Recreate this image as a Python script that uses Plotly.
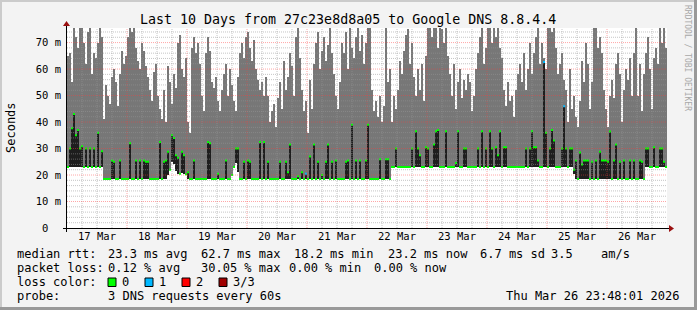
import plotly.graph_objects as go

# ---------------- data ----------------
day_labels = ["17 Mar", "18 Mar", "19 Mar", "20 Mar", "21 Mar",
              "22 Mar", "23 Mar", "24 Mar", "25 Mar", "26 Mar"]
y_tick_values = [0, 10, 20, 30, 40, 50, 60, 70]
y_tick_labels = ["0\u00a0\u00a0", "10 m", "20 m", "30 m", "40 m", "50 m", "60 m", "70 m"]

bin_hours = 0.8   # one value per 48 minutes, 17 Mar 00:00 .. 27 Mar 00:00

# lower edge of the smoke (ms)
smoke_low = [
    23, 23, 23, 23, 23, 23, 23, 23, 23, 23, 23, 23, 23, 23, 23, 23, 23, 23, 18.5, 18.5,
    18.5, 18.5, 18.5, 18.5, 18.5, 18.5, 18.5, 18.5, 18.5, 18.5, 18.5, 18.5, 18.5, 18.5, 18.5, 18.5, 18.5, 18.5, 18.5, 18.5,
    18.5, 18.5, 18.5, 18.5, 18.5, 18.5, 18.5, 18.5, 18.5, 18.5,
    20, 22, 25, 24, 21.5, 20.5, 20.5, 20.8, 20.5, 20.3, 18.5, 18.5, 18.5, 18.5, 18.5, 18.5, 18.5, 18.5, 18.5, 18.5,
    18.5, 18.5, 18.5, 18.5, 18.5, 18.5, 18.5, 18.5, 18.5, 18.5, 18.5, 18.5, 20, 23, 24.5, 21, 18.5, 18.5, 18.5, 18.5,
    18.5, 18.5, 18.5, 18.5, 18.5, 18.5, 18.5, 18.5, 18.5, 18.5,
    18.5, 18.5, 18.5, 18.5, 18.5, 18.5, 18.5, 18.5, 18.5, 18.5, 18.5, 18.5, 18.5, 18.5, 18.5, 18.5, 18.5, 18.5, 18.5, 18.5,
    18.5, 18.5, 18.5, 18.5, 18.5, 18.5, 18.5, 18.5, 18.5, 18.5, 18.5, 18.5, 18.5, 18.5, 18.5, 18.5, 18.5, 18.5, 18.5, 18.5,
    18.5, 18.5, 18.5, 18.5, 18.5, 18.5, 18.5, 18.5, 18.5, 18.5,
    18.5, 18.5, 18.5, 18.5, 18.5, 18.5, 18.5, 18.5, 18.5, 18.5, 18.5, 18.5, 23, 23, 23, 23, 23, 23, 23, 23,
    23, 23, 23, 23, 23, 23, 23, 23, 23, 23, 23, 23, 23, 23, 23, 23, 23, 23, 23, 23,
    23, 23, 23, 23, 23, 23, 23, 23, 23, 23,
    23, 23, 23, 23, 23, 23, 23, 23, 23, 23, 23, 23, 23, 23, 23, 23, 23, 23, 23, 23,
    23, 23, 23, 23, 23, 23, 23, 23, 23, 23, 23, 23, 23, 23, 23, 23, 23, 23, 23, 23,
    23, 23, 23, 23, 23, 23, 23, 23, 23, 23,
    23, 23, 23, 20.5, 18.5, 18.5, 18.5, 18.5, 18.5, 18.5, 18.5, 18.5, 18.5, 18.5, 18.5, 18.5, 18.5, 18.5, 18.5, 18.5,
    18.5, 18.5, 18.5, 18.5, 18.5, 18.5, 18.5, 18.5, 18.5, 18.5, 18.5, 18.5, 18.5, 18.5, 18.5, 18.5, 18.5, 18.5, 18.5, 23,
    23, 23, 23, 23, 23, 23, 23, 23, 23, 23,
]

# upper edge of the smoke (ms, the chart clips at 75.5)
smoke_top = [
    65, 66, 55, 75.5, 72, 68, 75.5, 75.5, 70, 62, 74, 75.5, 58, 66, 64, 70, 75.5, 72, 41, 54,
    50, 47, 57, 60, 55, 46, 58, 67, 62, 65, 72, 75.5, 74, 75.5, 68, 63, 60, 70, 67, 61,
    57, 52, 48, 59, 62, 50, 45, 41, 52, 40,
    61, 55, 47, 58, 53, 70, 73, 60, 57, 64, 40, 36, 68, 72, 66, 70, 62, 50, 44, 66,
    72, 67, 55, 53, 57, 48, 44, 52, 58, 62, 50, 60, 54, 48, 44, 57, 66, 70, 64, 72,
    74, 68, 63, 71, 60, 56, 52, 55, 50, 57,
    50, 40, 44, 47, 38, 49, 55, 45, 63, 52, 57, 66, 61, 50, 72, 75.5, 64, 52, 44, 48,
    36, 56, 45, 62, 70, 74, 60, 67, 72, 63, 69, 75.5, 66, 58, 50, 45, 55, 70, 66, 74,
    60, 75.5, 68, 64, 72, 75.5, 67, 73, 62, 70,
    75.5, 75.5, 52, 44, 48, 42, 50, 40, 46, 75.5, 55, 60, 40, 50, 45, 52, 63, 58, 67, 73,
    75, 62, 70, 57, 50, 60, 52, 62, 48, 65, 75.5, 75.5, 72, 75.5, 75.5, 68, 75.5, 75, 70, 75.5,
    65, 58, 50, 62, 45, 55, 60, 49, 56, 52,
    58, 55, 44, 50, 60, 66, 72, 75.5, 62, 68, 75.5, 75.5, 70, 75.5, 72, 75.5, 68, 64, 52, 46,
    55, 48, 50, 42, 52, 58, 62, 55, 66, 52, 60, 70, 58, 66, 72, 75.5, 62, 70, 64, 60,
    75.5, 75.5, 74, 75.5, 68, 58, 62, 66, 56, 52,
    40, 60, 45, 50, 42, 38, 48, 63, 55, 70, 62, 45, 55, 75.5, 75.5, 68, 72, 66, 52, 45,
    38, 50, 56, 49, 62, 66, 58, 40, 52, 60, 56, 64, 50, 66, 75.5, 50, 62, 44, 58, 66,
    72, 60, 45, 64, 68, 62, 75.5, 70, 75.5, 68,
]

# median round trip time (ms)
median_rtt = [
    23, 30, 37.7, 43, 35, 37, 30, 31, 23, 30, 23, 30, 23, 30, 23, 36, 23, 29, 18.5, 18.5,
    18.5, 18.5, 25.5, 25, 18.5, 18.5, 25.5, 18.5, 18.5, 18.5, 18.5, 32, 18.5, 18.5, 25.5, 18.5, 25.5, 18.5, 25.5, 25,
    25, 18.5, 18.5, 18.5, 18.5, 18.5, 32.5, 18.5, 25, 25.5,
    28.8, 22, 35, 34, 27.5, 26.5, 20.5, 28.8, 27.5, 20.3, 21, 18.5, 18.5, 25.5, 18.5, 18.5, 18.5, 18.5, 18.5, 18.5,
    32.5, 32, 18.5, 18.5, 18.5, 20.5, 18.5, 18.5, 18.5, 25.5, 18.5, 18.5, 20, 23, 30, 30, 18.5, 18.5, 25, 18.5,
    25.5, 25, 18.5, 18.5, 18.5, 18.5, 32.5, 18.5, 32.5, 18.5,
    25, 18.5, 18.5, 18.5, 18.5, 18.5, 25, 18.5, 18.5, 25, 21, 31.5, 18.5, 18.5, 18.5, 19.5, 18.5, 21, 18.5, 20.5,
    18.5, 27, 18.5, 31.5, 18.5, 25, 18.5, 20, 18.5, 25, 31.5, 18.5, 25, 18.5, 25.5, 18.5, 18.5, 18.5, 18.5, 25,
    25.5, 18.5, 39, 18.5, 25.5, 18.5, 25.5, 18.5, 18.5, 25.5,
    39, 18.5, 18.5, 18.5, 18.5, 18.5, 26, 18.5, 18.5, 26, 26, 18.5, 23, 23, 30, 23, 23, 23, 23, 23,
    23, 23, 30, 23, 36.5, 30, 27.5, 23, 23, 30.5, 30, 23, 23, 31.5, 36.5, 37, 23, 23, 23, 36.5,
    23, 23, 23, 23, 24.5, 36.5, 23, 23, 30, 30,
    23, 23, 23, 23, 23, 30, 23, 36.5, 23, 30, 23, 36.5, 30, 23, 30.5, 27.5, 36.5, 23, 30.5, 30.5,
    23, 23, 23, 23, 23, 23, 23, 23, 23, 30, 23, 30, 36.5, 30.5, 30.5, 25.5, 23, 23, 62.7, 36,
    23, 30, 37, 33, 23, 23, 23, 30, 46, 30,
    23, 30, 30, 22, 25.5, 18.5, 28.5, 24, 25.5, 25.5, 25.5, 18.5, 25, 18.5, 25.5, 18.5, 28.8, 25.5, 25.5, 25.5,
    25, 36.4, 18.5, 25.5, 31.5, 18.5, 25, 18.5, 25.5, 18.5, 18.5, 25.5, 18.5, 25.5, 18.5, 18.5, 25.5, 25, 18.5, 30,
    30, 23, 23, 30.5, 23, 23, 30, 30, 25, 23,
]

# bins with packet loss (index into the arrays above) and their loss level
loss_bins = [119, 238, 248]
loss_levels = [1, 1, 1]

legend_loss_labels = ["0", "1", "2", "3/3"]
loss_colors = ["#00ff00", "#00b8ff", "#ff0000", "#a00000"]

# ---------------- geometry helpers (pixel -> paper) ----------------
W, H = 697, 310
L, R, T, B = 67, 667, 28, 228


def px(x):
    return (x - L) / (R - L)


def py(y):
    return (B - y) / (B - T)


n = len(smoke_low)
centers = [bin_hours * i + bin_hours / 2 for i in range(n)]
loss_of = [0] * n
for b, lv in zip(loss_bins, loss_levels):
    loss_of[b] = lv

fig = go.Figure()

# smoke (min..max)
fig.add_trace(go.Bar(
    x=centers, base=smoke_low, y=[t - l for t, l in zip(smoke_top, smoke_low)],
    width=bin_hours, marker=dict(color="#777777", line=dict(width=0)),
    hoverinfo="skip", showlegend=False))

# dark body under the median
fig.add_trace(go.Bar(
    x=centers, base=smoke_low, y=[m - l for m, l in zip(median_rtt, smoke_low)],
    width=bin_hours * 0.6, marker=dict(color="#1e1e1e", line=dict(width=0)),
    hoverinfo="skip", showlegend=False))

# median line, coloured by loss
for lv in sorted(set(loss_of)):
    xs, ys = [], []
    for i in range(n):
        if loss_of[i] == lv:
            xs += [bin_hours * i, bin_hours * (i + 1), None]
            ys += [median_rtt[i], median_rtt[i], None]
    fig.add_trace(go.Scatter(x=xs, y=ys, mode="lines",
                             line=dict(color=loss_colors[lv], width=2),
                             hoverinfo="skip", showlegend=False))

shapes = []
# grid (drawn over the data, as rrdtool does)
minor_grid = "rgba(150,150,150,0.55)"
major_grid = "rgba(255,60,60,0.45)"
for h in range(6, 240, 6):
    shapes.append(dict(type="line", xref="x", yref="paper", x0=h, x1=h, y0=0, y1=1,
                       line=dict(color=major_grid if h % 24 == 0 else minor_grid, width=1, dash="1px,1px"),
                       layer="above"))
for v in range(2, 76, 2):
    shapes.append(dict(type="line", xref="paper", yref="y", x0=0, x1=1, y0=v, y1=v,
                       line=dict(color=major_grid if v % 10 == 0 else minor_grid, width=1, dash="1px,1px"),
                       layer="above"))

# axes lines and arrows
shapes.append(dict(type="line", xref="paper", yref="paper", x0=px(63), x1=px(670), y0=py(228.5), y1=py(228.5),
                   line=dict(color="#000000", width=1), layer="above"))
shapes.append(dict(type="line", xref="paper", yref="paper", x0=px(66.5), x1=px(66.5), y0=py(232), y1=py(24),
                   line=dict(color="#000000", width=1), layer="above"))
shapes.append(dict(type="path", xref="paper", yref="paper",
                   path=f"M {px(669)} {py(225)} L {px(674)} {py(228.5)} L {px(669)} {py(232)} Z",
                   fillcolor="#9a1010", line=dict(width=0), layer="above"))
shapes.append(dict(type="path", xref="paper", yref="paper",
                   path=f"M {px(63)} {py(26)} L {px(66.5)} {py(21)} L {px(70)} {py(26)} Z",
                   fillcolor="#9a1010", line=dict(width=0), layer="above"))

# outer 3D frame
shapes.append(dict(type="rect", xref="paper", yref="paper", x0=px(0), x1=px(697), y0=py(0), y1=py(2),
                   fillcolor="#cbcbcb", line=dict(width=0)))
shapes.append(dict(type="rect", xref="paper", yref="paper", x0=px(0), x1=px(2), y0=py(0), y1=py(310),
                   fillcolor="#cbcbcb", line=dict(width=0)))
shapes.append(dict(type="rect", xref="paper", yref="paper", x0=px(0), x1=px(697), y0=py(307), y1=py(310),
                   fillcolor="#999999", line=dict(width=0)))
shapes.append(dict(type="rect", xref="paper", yref="paper", x0=px(694), x1=px(697), y0=py(0), y1=py(310),
                   fillcolor="#999999", line=dict(width=0)))

# loss colour swatches
sw_x = [108, 145, 182, 219]
for x0, col in zip(sw_x, loss_colors):
    shapes.append(dict(type="rect", xref="paper", yref="paper", x0=px(x0), x1=px(x0 + 8),
                       y0=py(278), y1=py(286.5), fillcolor=col, line=dict(color="#000000", width=1)))

MONO = "DejaVu Sans Mono"


def ann(text, x, y, size=12, xanchor="left", color="#000000", **kw):
    return dict(text=text, x=px(x), y=py(y), xref="paper", yref="paper", xanchor=xanchor,
                yanchor="middle", showarrow=False,
                font=dict(family=MONO, size=size, color=color), **kw)


annotations = [
    ann("Last 10 Days from 27c23e8d8a05 to Google DNS 8.8.4.4", 348, 19, size=13.3, xanchor="center"),
    ann("Seconds", 11, 128, size=12, xanchor="center", textangle=-90),
    ann("RRDTOOL / TOBI OETIKER", 688, 58, size=8, xanchor="center", color="#a8a8a8", textangle=90),
]
rows = [
    (254, [(16, "median rtt:"), (107, "23.3 ms avg"), (200, "62.7 ms max"), (293, "18.2 ms min"),
           (387, "23.2 ms now"), (479, "6.7 ms sd"), (550, "3.5"), (600, "am/s")]),
    (268, [(16, "packet loss:"), (107, "0.12 % avg"), (200, "30.05 % max"), (288, "0.00 % min"),
           (373, "0.00 % now")]),
    (282, [(16, "loss color:")] + [(x0 + 13, lab) for x0, lab in zip(sw_x, legend_loss_labels)]),
    (296, [(16, "probe:"), (107, "3 DNS requests every 60s")]),
]
for yy, items in rows:
    for xx, txt in items:
        annotations.append(ann(txt, xx - 1, yy))
annotations.append(ann("Thu Mar 26 23:48:01 2026", 681, 296, xanchor="right"))

fig.update_layout(
    width=W, height=H,
    margin=dict(l=L, r=W - R, t=T, b=H - B, autoexpand=False),
    paper_bgcolor="#f3f3f3", plot_bgcolor="#ffffff",
    barmode="overlay", bargap=0,
    showlegend=False,
    shapes=shapes, annotations=annotations,
    xaxis=dict(range=[0, 240], tickmode="array",
               tickvals=[12 + 24 * k for k in range(len(day_labels))], ticktext=day_labels,
               showgrid=False, zeroline=False, showline=False, ticks="",
               tickfont=dict(family=MONO, size=10.5, color="#000000")),
    yaxis=dict(range=[0, 75.5], tickmode="array", tickvals=y_tick_values, ticktext=y_tick_labels,
               showgrid=False, zeroline=False, showline=False, ticks="", ticklabelstandoff=5,
               tickfont=dict(family=MONO, size=10.5, color="#000000")),
)

fig.write_html("out.html")
